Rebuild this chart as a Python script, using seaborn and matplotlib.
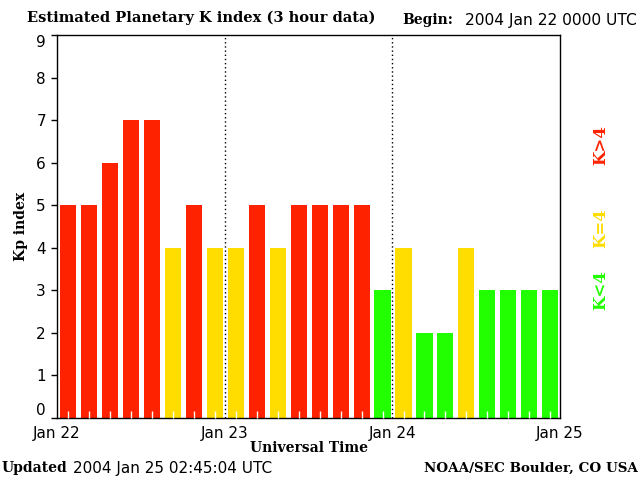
import numpy as np
import pandas as pd
import seaborn as sns
import matplotlib.pyplot as plt

# Kp values, one per 3 hour bin starting 2004 Jan 22 0000 UTC
kp = [5, 5, 6, 7, 7, 4, 5, 4, 4, 5, 4, 5, 5, 5, 5, 3, 4, 2, 2, 4, 3, 3, 3, 3]
day_labels = ['Jan 22', 'Jan 23', 'Jan 24', 'Jan 25']
level_colors = {'K>4': '#ff2200', 'K=4': '#ffdd00', 'K<4': '#22ff00'}

hours = np.arange(len(kp)) * 3 + 1.6
level = ['K>4' if k > 4 else ('K=4' if k == 4 else 'K<4') for k in kp]
df = pd.DataFrame({'hour': hours, 'kp': kp, 'level': level})

sns.set_style('white')
plt.rcParams['text.color'] = 'black'
plt.rcParams['axes.labelcolor'] = 'black'
plt.rcParams['xtick.color'] = 'black'
plt.rcParams['ytick.color'] = 'black'
serif = ['DejaVu Serif']
sans = ['DejaVu Sans']

fig = plt.figure(figsize=(6.4, 4.8), dpi=100)
ax = fig.add_axes([57 / 640, 1 - 418 / 480, 503 / 640, 383 / 480])

sns.barplot(data=df, x='hour', y='kp', hue='level', palette=level_colors,
            native_scale=True, width=0.77, dodge=False, legend=False,
            saturation=1, ax=ax, linewidth=0)

ax.set_xlim(0, 72)
ax.set_ylim(0, 9)
ax.set_axisbelow(False)
for s in ax.spines.values():
    s.set_color('black')
    s.set_linewidth(1)
    s.set_visible(True)

for d in (24, 48):
    ax.axvline(d, color='black', lw=1, ls=(0, (1, 2)), zorder=0.5)

ax.set_xticks([0, 24, 48, 72])
ax.set_xticklabels(day_labels, fontsize=11, family=sans)
ax.tick_params(axis='x', which='major', length=0, pad=6)
ax.set_xticks(hours, minor=True)
ax.tick_params(axis='x', which='minor', direction='in', length=5,
               color='white', width=1, bottom=True)

ax.set_yticks(range(10))
ax.set_yticklabels([str(i) for i in range(10)], fontsize=11, family=sans)
ax.tick_params(axis='y', which='major', direction='out', length=4,
               color='black', width=1, pad=4, left=True)
ylabs = ax.get_yticklabels()
ylabs[0].set_va('bottom')
ylabs[-1].set_va('top')

ax.set_xlabel('Universal Time', fontsize=10, family=serif, weight='bold', labelpad=0)
ax.set_ylabel('Kp index', fontsize=10, family=serif, weight='bold', labelpad=6)

fig.text(27 / 640, 1 - 18 / 480, 'Estimated Planetary K index (3 hour data)',
         fontsize=10.5, family=serif, weight='bold', va='center', ha='left')
fig.text(402 / 640, 1 - 20 / 480, 'Begin:', fontsize=10, family=serif,
         weight='bold', va='center', ha='left')
fig.text(465 / 640, 1 - 20 / 480, '2004 Jan 22 0000 UTC', fontsize=11.2,
         family=sans, va='center', ha='left')

fig.text(2 / 640, 1 - 468 / 480, 'Updated', fontsize=10, family=serif,
         weight='bold', va='center', ha='left')
fig.text(73 / 640, 1 - 468 / 480, '2004 Jan 25 02:45:04 UTC', fontsize=11,
         family=sans, va='center', ha='left')
fig.text(638 / 640, 1 - 468 / 480, 'NOAA/SEC Boulder, CO USA', fontsize=9.7,
         family=serif, weight='bold', va='center', ha='right')

for lab, y in (('K>4', 145), ('K=4', 228), ('K<4', 290)):
    fig.text(601 / 640, 1 - y / 480, lab, color=level_colors[lab], fontsize=12,
             family=serif, weight='bold', rotation=90, va='center', ha='center')

fig.savefig('out.png', dpi=100)
